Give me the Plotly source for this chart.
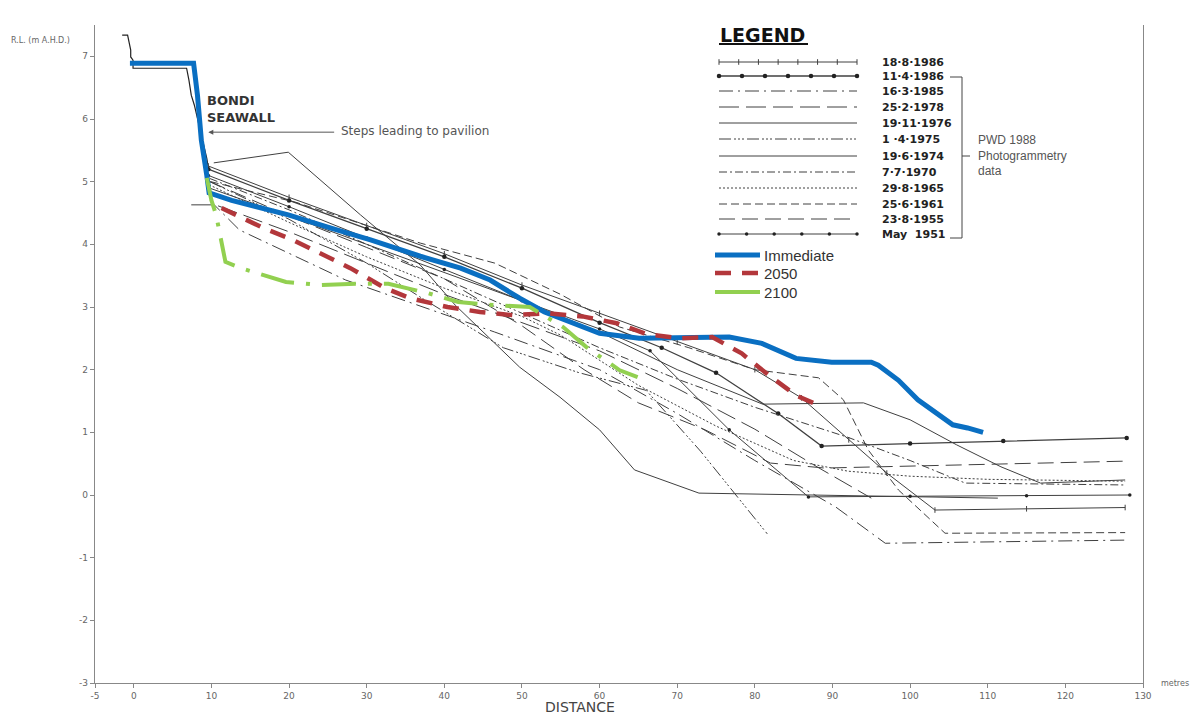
import numpy as np
import plotly.graph_objects as go

# ---------------- data (distance m, R.L. m AHD) ----------------
seawall_x = [-1.5, -0.8, -0.6, -0.4, -0.4, -0.1, -0.1, 6.8, 7.1, 7.4, 7.8, 8.2, 8.6, 9.0, 9.4, 9.6]
seawall_y = [7.34, 7.34, 7.22, 7.10, 6.99, 6.94, 6.81, 6.81, 6.62, 6.38, 6.22, 6.01, 5.82, 5.58, 5.37, 5.22]

survey_labels = ["18·8·1986", "11·4·1986", "16·3·1985", "25·2·1978", "19·11·1976", "1 ·4·1975",
                 "19·6·1974", "7·7·1970", "29·8·1965", "25·6·1961", "23·8·1955", "May  1951"]

p1986a_x = [9.6, 20, 30, 40, 50, 60, 70, 80, 86, 92.1, 97, 103.2, 115, 127.7]
p1986a_y = [5.25, 4.75, 4.3, 3.85, 3.35, 2.9, 2.45, 2.0, 1.55, 0.88, 0.35, -0.24, -0.22, -0.2]
p1986b_x = [9.6, 20, 30, 40, 50, 60, 68, 75, 83, 88.6, 100, 112, 127.9]
p1986b_y = [5.2, 4.7, 4.25, 3.8, 3.3, 2.75, 2.35, 1.95, 1.3, 0.78, 0.82, 0.86, 0.91]
p1985_x = [9.8, 13.6, 27.3, 46.5, 60, 70, 80, 90.4, 96.8, 127.7]
p1985_y = [4.7, 4.23, 3.43, 2.6, 2.0, 1.3, 0.55, -0.19, -0.77, -0.72]
p1978_x = [7.4, 10.5, 20, 30, 40, 50, 60, 70, 80, 88, 95]
p1978_y = [4.63, 4.63, 4.2, 3.7, 3.2, 2.75, 2.3, 1.7, 1.05, 0.45, -0.05]
p1976_x = [9.7, 20, 30, 40, 50, 60, 70, 81, 94, 100, 106, 111.7, 116.8, 127.7]
p1976_y = [4.9, 4.45, 4.0, 3.55, 3.1, 2.6, 2.0, 1.45, 1.47, 1.2, 0.8, 0.45, 0.19, 0.24]
p1975_x = [9.8, 20, 30, 37, 47.6, 57.4, 66, 73, 81.6]
p1975_y = [5.0, 4.4, 3.7, 3.15, 2.35, 1.95, 1.67, 0.7, -0.62]
p1974_x = [10.3, 19.9, 29.2, 36.9, 41.4, 49.7, 54.9, 60, 64.5, 72.8, 111.3]
p1974_y = [5.30, 5.47, 4.47, 3.67, 3.03, 2.04, 1.56, 1.04, 0.40, 0.03, -0.05]
p1970_x = [9.8, 20, 30, 40, 50, 60, 70, 80, 92, 100, 107.1, 127.7]
p1970_y = [5.05, 4.55, 4.0, 3.45, 2.9, 2.35, 1.85, 1.4, 0.92, 0.55, 0.19, 0.16]
p1965_x = [9.7, 20, 30, 40, 50, 55, 65, 75, 85, 92, 100, 110, 127.7]
p1965_y = [4.95, 4.35, 3.8, 3.3, 2.85, 2.55, 1.75, 1.1, 0.55, 0.38, 0.3, 0.25, 0.22]
p1961_x = [9.9, 20.9, 30, 36.9, 46.5, 55, 62.6, 71.5, 80, 88.2, 91.4, 94.6, 98.5, 104.5, 127.7]
p1961_y = [5.0, 4.67, 4.3, 4.02, 3.7, 3.2, 2.68, 2.35, 2.0, 1.87, 1.52, 0.72, 0.08, -0.61, -0.6]
p1955_x = [9.8, 20, 30, 40, 50, 58, 65, 73.6, 82, 89, 127.7]
p1955_y = [5.0, 4.45, 3.95, 3.45, 2.7, 2.0, 1.47, 1.04, 0.51, 0.43, 0.54]
p1951_x = [9.6, 20, 30, 40, 50, 60, 66.5, 76.7, 86.9, 100, 115, 128.3]
p1951_y = [5.1, 4.6, 4.1, 3.6, 3.1, 2.65, 2.3, 1.04, -0.03, -0.02, -0.01, 0.0]

immediate_x = [-0.5, 7.7, 8.2, 8.7, 9.4, 9.7, 12.6, 19.9, 25.4, 30.5, 36.9, 42.1, 45.9, 49.7, 52.9, 55.5,
               60.0, 65.1, 70.3, 76.7, 80.9, 85.3, 89.9, 95.0, 95.9, 98.5, 101.0, 103.6, 105.5, 107.4, 109.4]
immediate_y = [6.89, 6.89, 6.38, 5.66, 5.10, 4.82, 4.70, 4.47, 4.26, 4.07, 3.81, 3.62, 3.43, 3.14, 2.92, 2.79,
               2.58, 2.50, 2.50, 2.52, 2.42, 2.18, 2.12, 2.12, 2.07, 1.83, 1.52, 1.28, 1.12, 1.07, 1.00]
y2050_x = [11.3, 16.7, 20.5, 24.4, 27.9, 32.4, 35.6, 40.4, 44.6, 48.8, 53.3, 57.8, 62.2, 66.0, 70.3, 74.5,
           78.3, 81.8, 85.3, 88.8]
y2050_y = [4.58, 4.26, 4.07, 3.83, 3.62, 3.30, 3.14, 3.00, 2.92, 2.87, 2.90, 2.85, 2.74, 2.57, 2.50, 2.52,
           2.26, 1.91, 1.59, 1.40]
y2100_x = [9.4, 10.0, 10.6, 11.3, 11.8, 13.8, 19.6, 24.1, 28.6, 32.8, 37.9, 41.8, 46.5, 51.0, 55.3, 58.3, 62.6, 64.9]
y2100_y = [5.06, 4.70, 4.47, 4.07, 3.72, 3.62, 3.40, 3.35, 3.37, 3.37, 3.22, 3.08, 3.03, 3.00, 2.68, 2.36, 1.99, 1.88]

x_ticks = [-5, 0, 10, 20, 30, 40, 50, 60, 70, 80, 90, 100, 110, 120, 130]
y_ticks = [-3, -2, -1, 0, 1, 2, 3, 4, 5, 6, 7]

# ---------------- styles ----------------
INK = "#404040"
survey_data = [(p1986a_x, p1986a_y), (p1986b_x, p1986b_y), (p1985_x, p1985_y), (p1978_x, p1978_y),
               (p1976_x, p1976_y), (p1975_x, p1975_y), (p1974_x, p1974_y), (p1970_x, p1970_y),
               (p1965_x, p1965_y), (p1961_x, p1961_y), (p1955_x, p1955_y), (p1951_x, p1951_y)]
survey_style = [
    dict(dash="solid", marker=dict(symbol="line-ns-open", size=4, line=dict(width=1, color=INK)), n=8),
    dict(dash="solid", marker=dict(symbol="circle", size=4.5, color="#222"), n=7, w=1.3),
    dict(dash="14px,5px,2px,5px", marker=None),
    dict(dash="20px,7px", marker=None),
    dict(dash="solid", marker=None),
    dict(dash="12px,3px,2px,2px,2px,2px,2px,3px", marker=None),
    dict(dash="solid", marker=None),
    dict(dash="8px,3px,2px,3px", marker=None),
    dict(dash="2px,2px", marker=None),
    dict(dash="8px,4px", marker=None),
    dict(dash="16px,7px", marker=None),
    dict(dash="solid", marker=dict(symbol="circle", size=3.5, color="#222"), n=6),
]

fig = go.Figure()

# seawall
fig.add_trace(go.Scatter(x=seawall_x, y=seawall_y, mode="lines",
                         line=dict(color="#222", width=1.2), showlegend=False, hoverinfo="skip"))

for (xs, ys), st, name in zip(survey_data, survey_style, survey_labels):
    mode = "lines+markers" if st["marker"] else "lines"
    tr = dict(x=xs, y=ys, mode=mode, name=name, showlegend=False,
              line=dict(color=INK, width=st.get("w", 1.0), dash=st["dash"]))
    if st["marker"]:
        tr["marker"] = st["marker"]
    fig.add_trace(go.Scatter(**tr))

fig.add_trace(go.Scatter(x=immediate_x, y=immediate_y, mode="lines", name="Immediate", showlegend=False,
                         line=dict(color="#0a6fc2", width=5)))
fig.add_trace(go.Scatter(x=y2050_x, y=y2050_y, mode="lines", name="2050", showlegend=False,
                         line=dict(color="#b3373b", width=4.5, dash="16px,11px")))
fig.add_trace(go.Scatter(x=y2100_x, y=y2100_y, mode="lines", name="2100", showlegend=False,
                         line=dict(color="#92d050", width=4, dash="34px,12px,4px,12px")))

# ---------------- custom legend (on helper axes x2/y2, in reference-pixel units) ----------------
row_y = [62, 76, 91, 107, 123, 139, 156, 172, 188, 204, 219, 234]
for ry, st, name in zip(row_y, survey_style, survey_labels):
    n = st.get("n", 2)
    xs = list(np.linspace(719, 857, n)) if st["marker"] else [719, 857]
    tr = dict(x=xs, y=[ry] * len(xs), xaxis="x2", yaxis="y2", showlegend=False, hoverinfo="skip",
              mode="lines+markers" if st["marker"] else "lines", cliponaxis=False,
              line=dict(color=INK, width=st.get("w", 1.0), dash=st["dash"]))
    if st["marker"]:
        tr["marker"] = st["marker"]
    fig.add_trace(go.Scatter(**tr))

mod_rows = [(255, "Immediate", dict(color="#0a6fc2", width=5)),
            (273, "2050", dict(color="#b3373b", width=4.5, dash="16px,11px")),
            (292, "2100", dict(color="#92d050", width=4))]
for ry, name, ln in mod_rows:
    fig.add_trace(go.Scatter(x=[715, 760], y=[ry, ry], xaxis="x2", yaxis="y2", mode="lines",
                             line=ln, showlegend=False, hoverinfo="skip", cliponaxis=False))

annotations = []
for ry, name in zip(row_y, survey_labels):
    annotations.append(dict(x=880, y=ry, xref="x2", yref="y2", text="<b>%s</b>" % name, showarrow=False,
                            xanchor="left", yanchor="middle",
                            font=dict(family="DejaVu Sans", size=11, color="#222")))
for ry, name, ln in mod_rows:
    annotations.append(dict(x=762, y=ry, xref="x2", yref="y2", text=name, showarrow=False,
                            xanchor="left", yanchor="middle",
                            font=dict(family="Liberation Sans", size=15, color="#333")))
annotations.append(dict(x=718, y=35, xref="x2", yref="y2", text="<b>LEGEND</b>", showarrow=False,
                        xanchor="left", yanchor="middle",
                        font=dict(family="DejaVu Sans", size=19, color="#111")))
annotations.append(dict(x=976, y=155, xref="x2", yref="y2", text="PWD 1988<br>Photogrammetry<br>data",
                        showarrow=False, xanchor="left", yanchor="middle", align="left",
                        font=dict(family="Liberation Sans", size=12, color="#555")))

# chart texts
annotations += [
    dict(x=9.2, y=6.45, xref="x", yref="y", text="<b>BONDI<br>SEAWALL</b>", showarrow=False,
         xanchor="left", yanchor="top", align="left",
         font=dict(family="DejaVu Sans", size=13, color="#333")),
    dict(x=26.4, y=5.81, xref="x", yref="y", text="Steps leading to pavilion", showarrow=False,
         xanchor="left", yanchor="middle", font=dict(family="DejaVu Sans", size=12, color="#555")),
    dict(x=9.6, y=5.79, ax=26.0, ay=5.79, xref="x", yref="y", axref="x", ayref="y", text="",
         showarrow=True, arrowhead=2, arrowsize=1, arrowwidth=1, arrowcolor="#555"),
    dict(x=0, y=1.0, xref="paper", yref="paper", text="R.L. (m A.H.D.)", showarrow=False,
         xanchor="left", yanchor="middle", xshift=-86, yshift=-15,
         font=dict(family="DejaVu Sans", size=8, color="#666")),
    dict(x=1.0, y=0, xref="paper", yref="paper", text="metres", showarrow=False, xanchor="left",
         yanchor="middle", xshift=16, font=dict(family="DejaVu Sans", size=8, color="#666")),
    dict(x=0.463, y=0, xref="paper", yref="paper", text="DISTANCE", showarrow=False,
         xanchor="center", yanchor="middle", yshift=-24,
         font=dict(family="DejaVu Sans", size=14, color="#444")),
]

shapes = [
    dict(type="line", xref="x2", yref="y2", x0=719, x1=808, y0=44, y1=44, line=dict(color="#111", width=2)),
    dict(type="path", xref="x2", yref="y2", path="M 950 77 L 962 77 L 962 238 L 950 238",
         line=dict(color="#444", width=1)),
    dict(type="line", xref="x2", yref="y2", x0=962, x1=970, y0=156, y1=156, line=dict(color="#444", width=1)),
]

# page body has an 8px margin; plot area kept at reference pixels 95..1143 x 25..683
fig.update_layout(
    width=1195, height=712,
    margin=dict(l=87, r=60, t=17, b=37),
    paper_bgcolor="white", plot_bgcolor="white",
    showlegend=False,
    annotations=annotations, shapes=shapes,
    xaxis=dict(range=[-5, 130], tickvals=x_ticks, ticktext=[str(v) for v in x_ticks],
               showgrid=False, zeroline=False, showline=True, linecolor="#888", linewidth=1.2,
               ticks="outside", ticklen=4, tickcolor="#888",
               tickfont=dict(family="DejaVu Sans", size=9, color="#666")),
    yaxis=dict(range=[-3, 7.5], tickvals=y_ticks, ticktext=[str(v) for v in y_ticks],
               showgrid=False, zeroline=False, showline=True, linecolor="#888", linewidth=1.2,
               mirror=True, ticks="outside", ticklen=4, tickcolor="#888",
               tickfont=dict(family="DejaVu Sans", size=9, color="#666")),
    xaxis2=dict(domain=[(700 - 95) / 1048, (1000 - 95) / 1048], range=[700, 1000], anchor="y2",
                visible=False, fixedrange=True),
    yaxis2=dict(domain=[(683 - 300) / 658, 1.0], range=[300, 25], anchor="x2",
                visible=False, fixedrange=True),
)

fig.write_html("out.html")
